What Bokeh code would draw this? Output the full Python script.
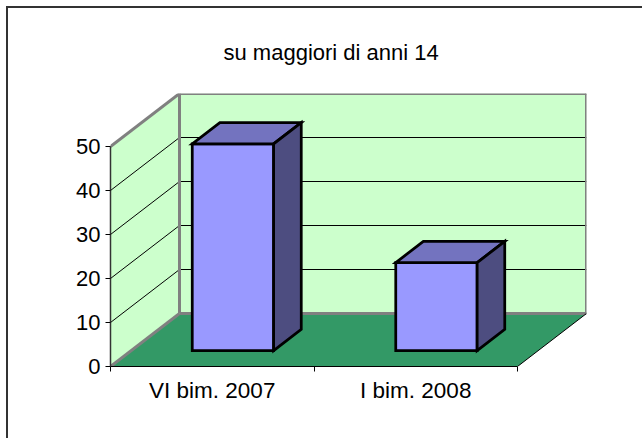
from bokeh.plotting import figure
from bokeh.models import FixedTicker, Title
from bokeh.embed import file_html
from bokeh.resources import INLINE

title_text = "su maggiori di anni 14"
categories = ["VI bim. 2007", "I bim. 2008"]
values = [47, 20]
y_ticks = [0, 10, 20, 30, 40, 50]
y_max = 50
gap_width = 1.5          # bar gap, as a share of the bar's width
bar_depth = (0.3, 0.7)   # front and back of a bar, as a share of the floor's depth

WALL, FLOOR, EDGE = "#CCFFCC", "#339966", "#808080"
FRONT, TOP, SIDE = "#9999FF", "#7373BF", "#4D4D80"
FONT = "Liberation Sans"
FONT_SIZE = "22px"

# Placement of the chart area (pixels in the picture)
FIG_L, FIG_T, FIG_R, FIG_B = 6, 6, 642, 438
BORDER = 2
AX_L, AX_B, AX_T, PLOT_R = 110, 366, 93, 586
UNIT_X = (517 - 110) / len(categories)
UNIT_Y = (366 - 146) / y_max
DX = 69 / UNIT_X    # depth shift, in category units
DY = 53 / UNIT_Y    # depth shift, in value units

n = len(categories)
p = figure(
    width=FIG_R - FIG_L, height=FIG_B - FIG_T,
    output_backend="svg", toolbar_location=None,
    x_range=(0, (PLOT_R - AX_L) / UNIT_X),
    y_range=(0, (AX_B - AX_T) / UNIT_Y),
    min_border_left=AX_L - FIG_L - BORDER, min_border_right=FIG_R - PLOT_R + BORDER,
    min_border_top=AX_T - FIG_T - BORDER, min_border_bottom=FIG_B - AX_B + BORDER,
    background_fill_color=None, border_fill_color="white",
    margin=(FIG_T, 0, 0, FIG_L),
    styles={"border-top": "2px solid #333333", "border-left": "2px solid #333333"},
)
p.outline_line_color = None
p.grid.visible = False

def proj(x, y, z):
    return x + z * DX, y + z * DY

def poly(points, fill, line=None, width=1):
    xs, ys = zip(*[proj(*q) for q in points])
    p.patch(list(xs), list(ys), fill_color=fill, line_color=line, line_width=width, line_join="miter")

def seg(a, b, color, width):
    xs, ys = zip(proj(*a), proj(*b))
    p.line(list(xs), list(ys), line_color=color, line_width=width)

# Floor and walls
poly([(0, 0, 0), (n, 0, 0), (n, 0, 1), (0, 0, 1)], FLOOR)
poly([(0, 0, 0), (0, 0, 1), (0, y_max, 1), (0, y_max, 0)], WALL)
poly([(0, 0, 1), (n, 0, 1), (n, y_max, 1), (0, y_max, 1)], WALL)

# Gridlines
for t in y_ticks[1:-1]:
    seg((0, t, 0), (0, t, 1), "black", 1)
    seg((0, t, 1), (n, t, 1), "black", 1)

# Wall edges
for a, b in [((0, 0, 0), (0, 0, 1)), ((0, 0, 1), (n, 0, 1)), ((0, 0, 1), (0, y_max, 1)),
             ((0, y_max, 0), (0, y_max, 1)), ((0, y_max, 1), (n, y_max, 1)), ((n, 0, 1), (n, y_max, 1))]:
    seg(a, b, EDGE, 3)
seg((n, 0, 0), (n, 0, 1), "black", 1)

# Bars
bw = 1 / (1 + gap_width)
z0, z1 = bar_depth
for i, v in enumerate(values):
    x0 = i + (1 - bw) / 2
    x1 = x0 + bw
    poly([(x0, 0, z0), (x1, 0, z0), (x1, v, z0), (x0, v, z0)], FRONT, "black", 2.75)
    poly([(x0, v, z0), (x1, v, z0), (x1, v, z1), (x0, v, z1)], TOP, "black", 2.75)
    poly([(x1, 0, z0), (x1, 0, z1), (x1, v, z1), (x1, v, z0)], SIDE, "black", 2.75)

# Axes
ax = p.yaxis[0]
ax.ticker = FixedTicker(ticks=y_ticks)
ax.bounds = (0, y_max)
ax.axis_line_color = "#333333"
ax.axis_line_width = 1.5
ax.major_tick_line_color = "black"
ax.major_tick_in = 0
ax.major_tick_out = 5
ax.minor_tick_line_color = None
ax.major_label_text_font = FONT
ax.major_label_text_font_size = FONT_SIZE
ax.major_label_text_color = "black"
ax.major_label_standoff = 5

bx = p.xaxis[0]
label_ticks = [i + 0.5 for i in range(n)]
bx.ticker = FixedTicker(ticks=label_ticks, minor_ticks=list(range(n + 1)))
bx.major_label_overrides = dict(zip(label_ticks, categories))
bx.bounds = (0, n)
bx.axis_line_color = "black"
bx.major_tick_line_color = None
bx.major_tick_in = 0
bx.major_tick_out = 0
bx.minor_tick_line_color = "black"
bx.minor_tick_in = 0
bx.minor_tick_out = 5
bx.major_label_text_font = FONT
bx.major_label_text_font_size = "22.5px"
bx.major_label_text_color = "black"
bx.major_label_standoff = 6

p.title = Title(text=title_text, text_font=FONT, text_font_size=FONT_SIZE, text_font_style="normal",
                text_color="black", align="left", offset=223 - AX_L, standoff=57)

open("out.html", "w").write(file_html(p, INLINE))
